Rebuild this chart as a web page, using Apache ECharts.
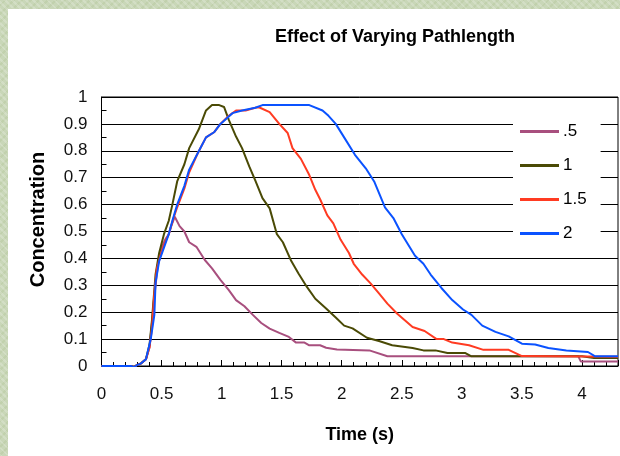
<!DOCTYPE html>
<html>
<head>
<meta charset="utf-8">
<script src="https://cdn.jsdelivr.net/npm/echarts@6/dist/echarts.min.js"></script>
<style>
  html, body { margin: 0; padding: 0; }
  body {
    width: 620px; height: 456px; overflow: hidden; position: relative;
    background-color: #c9d7b8;
    background-image:
      repeating-linear-gradient(45deg, rgba(255,255,255,0.18) 0 2px, rgba(0,0,0,0) 2px 5px),
      repeating-linear-gradient(-45deg, rgba(170,190,140,0.25) 0 2px, rgba(0,0,0,0) 2px 6px);
  }
  #chartA { position: absolute; left: 8px; top: 9px; width: 612px; height: 447px; background: #fff; }
</style>
</head>
<body>
<div id="chartA"></div>
<script>
var seriesNames = ['.5', '1', '1.5', '2'];
var seriesColors = ['#a84f7e', '#4a4a05', '#ff3b22', '#0a52ff'];

// [time (s), concentration]
var path05 = [
  [0, 0], [0.25, 0], [0.27, -0.005], [0.29, 0.002], [0.33, 0.01], [0.37, 0.025], [0.40, 0.07],
  [0.42, 0.16], [0.44, 0.26], [0.47, 0.38], [0.50, 0.44], [0.53, 0.47], [0.56, 0.49], [0.58, 0.52],
  [0.61, 0.555], [0.65, 0.52], [0.69, 0.50], [0.73, 0.46], [0.79, 0.443], [0.86, 0.394],
  [0.92, 0.363], [0.99, 0.32], [1.06, 0.282], [1.12, 0.245], [1.19, 0.222], [1.26, 0.19],
  [1.33, 0.16], [1.40, 0.139], [1.48, 0.123], [1.56, 0.108], [1.62, 0.087], [1.69, 0.087],
  [1.73, 0.077], [1.82, 0.077], [1.87, 0.068], [1.96, 0.061], [2.23, 0.058], [2.38, 0.036],
  [3.97, 0.036], [3.99, 0.017], [4.3, 0.017]
];
var path1 = [
  [0, 0], [0.25, 0], [0.27, -0.005], [0.29, 0.002], [0.33, 0.01], [0.37, 0.025], [0.40, 0.08],
  [0.42, 0.17], [0.45, 0.34], [0.48, 0.42], [0.52, 0.49], [0.56, 0.54], [0.59, 0.60], [0.63, 0.686],
  [0.69, 0.75], [0.73, 0.81], [0.81, 0.88], [0.87, 0.95], [0.92, 0.97], [0.98, 0.97], [1.02, 0.963],
  [1.06, 0.915], [1.12, 0.853], [1.17, 0.81], [1.23, 0.742], [1.28, 0.69], [1.34, 0.624],
  [1.40, 0.586], [1.46, 0.49], [1.51, 0.46], [1.58, 0.39], [1.64, 0.344], [1.71, 0.294],
  [1.78, 0.25], [1.87, 0.214], [1.95, 0.18], [2.02, 0.15], [2.09, 0.14], [2.21, 0.105],
  [2.31, 0.093], [2.42, 0.077], [2.59, 0.067], [2.68, 0.058], [2.78, 0.058], [2.88, 0.048],
  [3.03, 0.048], [3.08, 0.036], [4.0, 0.036], [4.1, 0.03], [4.3, 0.03]
];
var path15 = [
  [0, 0], [0.25, 0], [0.27, -0.005], [0.29, 0.002], [0.33, 0.01], [0.37, 0.025], [0.40, 0.07],
  [0.42, 0.14], [0.44, 0.27], [0.46, 0.36], [0.49, 0.41], [0.52, 0.45], [0.56, 0.49], [0.60, 0.55],
  [0.63, 0.59], [0.69, 0.66], [0.73, 0.72], [0.80, 0.79], [0.87, 0.85], [0.94, 0.87], [0.99, 0.90],
  [1.06, 0.93], [1.12, 0.95], [1.20, 0.95], [1.28, 0.96], [1.31, 0.962], [1.40, 0.944],
  [1.48, 0.90], [1.55, 0.866], [1.59, 0.81], [1.66, 0.77], [1.73, 0.71], [1.78, 0.655],
  [1.82, 0.62], [1.88, 0.56], [1.93, 0.53], [1.99, 0.47], [2.06, 0.42], [2.10, 0.38],
  [2.17, 0.34], [2.24, 0.307], [2.31, 0.27], [2.38, 0.232], [2.46, 0.195], [2.59, 0.145],
  [2.69, 0.13], [2.79, 0.10], [2.85, 0.10], [2.92, 0.087], [3.06, 0.077], [3.18, 0.06],
  [3.39, 0.06], [3.50, 0.037], [4.3, 0.034]
];
var path2 = [
  [0, 0], [0.25, 0], [0.27, -0.006], [0.29, 0.002], [0.33, 0.01], [0.37, 0.025], [0.41, 0.10],
  [0.44, 0.19], [0.45, 0.31], [0.48, 0.39], [0.52, 0.44], [0.56, 0.49], [0.59, 0.54], [0.63, 0.60],
  [0.69, 0.67], [0.73, 0.73], [0.80, 0.79], [0.87, 0.85], [0.94, 0.87], [0.99, 0.90], [1.09, 0.94],
  [1.17, 0.95], [1.28, 0.96], [1.34, 0.97], [1.73, 0.97], [1.84, 0.95], [1.89, 0.93], [1.95, 0.90],
  [2.02, 0.85], [2.11, 0.785], [2.20, 0.735], [2.27, 0.686], [2.36, 0.59], [2.43, 0.55],
  [2.50, 0.49], [2.61, 0.41], [2.68, 0.38], [2.74, 0.34], [2.83, 0.29], [2.92, 0.245],
  [3.01, 0.21], [3.08, 0.19], [3.17, 0.15], [3.28, 0.127], [3.39, 0.11], [3.50, 0.083],
  [3.61, 0.08], [3.72, 0.067], [3.87, 0.058], [4.05, 0.052], [4.11, 0.036], [4.3, 0.036]
];
var allPaths = [path05, path1, path15, path2];

var chartDom = document.getElementById('chartA');
var myChart = echarts.init(chartDom);
var option;

var font = 'Liberation Sans, Arial, sans-serif';

option = {
    animation: false,
    textStyle: { fontFamily: font },
    title: {
        text: 'Effect of Varying Pathlength',
        left: 262,
        top: 14,
        textStyle: { fontSize: 18, fontWeight: 'bold', color: '#000', fontFamily: font }
    },
    legend: {
        orient: 'vertical',
        left: 505,
        top: 106,
        backgroundColor: '#fff',
        padding: [8, 14, 8, 7],
        icon: 'rect',
        itemWidth: 39,
        itemHeight: 3,
        itemGap: 17,
        textStyle: { fontSize: 17, color: '#000', fontFamily: font, padding: [0, 0, 0, -1] },
        data: seriesNames
    },
    grid: {
        left: 93.5,
        right: 2,
        top: 88,
        bottom: 90,
        show: true,
        backgroundColor: '#fff',
        borderColor: '#000',
        borderWidth: 1
    },
    xAxis: {
        type: 'value',
        min: 0,
        max: 4.3,
        interval: 0.5,
        name: 'Time (s)',
        nameLocation: 'middle',
        nameGap: 60,
        nameTextStyle: { fontSize: 18, fontWeight: 'bold', color: '#000' },
        axisLine: { lineStyle: { color: '#000', width: 1 } },
        axisTick: { inside: true, length: 6, lineStyle: { color: '#000' } },
        minorTick: { show: true, splitNumber: 5, length: 4, lineStyle: { color: '#000' } },
        axisLabel: { fontSize: 17, color: '#111', margin: 20, showMaxLabel: false },
        splitLine: { show: false }
    },
    yAxis: {
        type: 'value',
        min: 0,
        max: 1,
        interval: 0.1,
        name: 'Concentration',
        nameLocation: 'middle',
        nameRotate: 90,
        nameGap: 53,
        nameTextStyle: { fontSize: 20, fontWeight: 'bold', color: '#000', padding: [0, 0, 0, 24] },
        axisLine: { show: true, lineStyle: { color: '#000', width: 1 } },
        axisTick: { inside: true, length: 5, lineStyle: { color: '#000' } },
        minorTick: { show: true, splitNumber: 2, length: 5, lineStyle: { color: '#000' } },
        axisLabel: { fontSize: 17, color: '#111', margin: 14 },
        splitLine: { lineStyle: { color: '#000', width: 1 } }
    },
    series: seriesNames.map(function (name, i) {
        return {
            name: name,
            type: 'line',
            symbol: 'none',
            color: seriesColors[i],
            lineStyle: { width: 2, color: seriesColors[i] },
            data: allPaths[i],
            z: 2 + i
        };
    })
};

option && myChart.setOption(option);
</script>
</body>
</html>
